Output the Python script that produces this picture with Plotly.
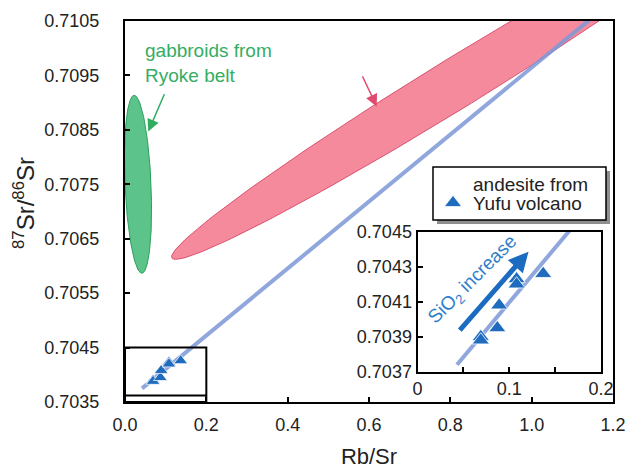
import numpy as np
import plotly.graph_objects as go

# ---------------- data ----------------
rb_sr = [0.069, 0.069, 0.087, 0.089, 0.108, 0.108, 0.137]
sr87_86 = [0.70390, 0.70388, 0.70395, 0.70408, 0.70423, 0.70420, 0.70426]

iso_x = [0.042, 1.16]
iso_y = [0.70375, 0.71063]
iso_inset_x = [0.043, 0.20]
iso_inset_y = [0.70374, 0.70472]

# fields: centre x, centre y, semi-major, semi-minor (x units), angle (deg, visual)
gabbro_field = dict(cx=0.0320, cy=0.70750, a=0.219, b=0.032, ang=92.5)
hohi_field = dict(cx=0.806, cy=0.70932, a=0.811, b=0.0615, ang=31.6)

x_ticks = [0.0, 0.2, 0.4, 0.6, 0.8, 1.0, 1.2]
y_ticks = [0.7035, 0.7045, 0.7055, 0.7065, 0.7075, 0.7085, 0.7095, 0.7105]
inset_x_ticks = [0, 0.1, 0.2]
inset_x_labels = ["0", "0.1", "0.2"]
inset_y_ticks = [0.7037, 0.7039, 0.7041, 0.7043, 0.7045]
legend_lines = ["andesite from", "Yufu volcano"]

x_range = [0, 1.2]
y_range = [0.7035, 0.7105]
inset_x_range = [0, 0.2]
inset_y_range = [0.7037, 0.7045]
zoom_box_y = [0.7035, 0.7045]
zoom_box_inner_y = 0.70362

# ---------------- geometry ----------------
W, H = 625, 470
ML, MR, MT, MB = 125, 12, 21, 68
PW, PH = W - ML - MR, H - MT - MB
k = (PH / (y_range[1] - y_range[0])) / (PW / (x_range[1] - x_range[0]))


def ellipse(f, n=240):
    t = np.linspace(0, 2 * np.pi, n)
    th = np.radians(f["ang"])
    X = f["cx"] + f["a"] * np.cos(th) * np.cos(t) - f["b"] * np.sin(th) * np.sin(t)
    Y = f["cy"] + (f["a"] * np.sin(th) * np.cos(t) + f["b"] * np.cos(th) * np.sin(t)) / k
    return X, Y


def px_x(p):
    return (p - ML) / PW


def px_y(p):
    return (H - MB - p) / PH


FONT = "Liberation Sans, Arial, sans-serif"
BLUE = "#1f6cbf"
fig = go.Figure()

gx, gy = ellipse(gabbro_field)
fig.add_trace(go.Scatter(x=gx, y=gy, mode="lines", fill="toself",
                         fillcolor="#5cc38a", line=dict(color="#2f9d5d", width=1),
                         hoverinfo="skip", showlegend=False))
hx, hy = ellipse(hohi_field)
fig.add_trace(go.Scatter(x=hx, y=hy, mode="lines", fill="toself",
                         fillcolor="#f58a9d", line=dict(color="#d9536f", width=1),
                         hoverinfo="skip", showlegend=False))
fig.add_trace(go.Scatter(x=iso_x, y=iso_y, mode="lines",
                         line=dict(color="rgba(125,152,215,0.85)", width=4),
                         hoverinfo="skip", showlegend=False))
fig.add_trace(go.Scatter(x=rb_sr, y=sr87_86, mode="markers",
                         marker=dict(symbol="triangle-up", size=12, color=BLUE,
                                     line=dict(color="white", width=0.7)),
                         showlegend=False))

fig.add_trace(go.Scatter(x=iso_inset_x, y=iso_inset_y, mode="lines", xaxis="x2", yaxis="y2",
                         line=dict(color="rgba(125,152,215,0.85)", width=4),
                         hoverinfo="skip", showlegend=False))
fig.add_trace(go.Scatter(x=rb_sr, y=sr87_86, mode="markers", xaxis="x2", yaxis="y2",
                         name="",
                         marker=dict(symbol="triangle-up", size=15, color=BLUE,
                                     line=dict(color="white", width=0.8)),
                         showlegend=True))

axis_common = dict(showgrid=False, zeroline=False, showline=True, linecolor="black",
                   linewidth=2, mirror=True, ticks="inside", ticklen=5, tickwidth=1.5,
                   tickcolor="black", automargin=False, ticklabeloverflow="allow",
                   tickfont=dict(size=18, color="#222", family=FONT))

# legend frame (px)
LG_L, LG_R, LG_T, LG_B = 433, 606, 167, 220

fig.update_layout(
    width=W, height=H, margin=dict(l=ML, r=MR, t=MT, b=MB),
    paper_bgcolor="white", plot_bgcolor="white",
    font=dict(family=FONT, color="#222"),
    xaxis=dict(range=x_range, tickvals=x_ticks, tickformat=".1f",
               ticklabelstandoff=5,
               title=dict(text="Rb/Sr", font=dict(size=22, color="#222"), standoff=15),
               **axis_common),
    yaxis=dict(range=y_range, tickvals=y_ticks, tickformat=".4f",
               ticklabelstandoff=20, **axis_common),
    xaxis2=dict(domain=[0.5994, 0.9754], anchor="y2", range=inset_x_range,
                tickvals=inset_x_ticks, ticktext=inset_x_labels,
                minor=dict(dtick=0.05, ticks="inside", ticklen=5, tickwidth=1.5, tickcolor="black"),
                ticklabelstandoff=0, **axis_common),
    yaxis2=dict(domain=[0.0795, 0.447], anchor="x2", range=inset_y_range,
                tickvals=inset_y_ticks, tickformat=".4f",
                ticklabelstandoff=0, **axis_common),
    legend=dict(x=px_x(LG_L), y=px_y(LG_T + 17), xanchor="left", yanchor="top",
                bgcolor="rgba(0,0,0,0)", borderwidth=0, itemsizing="trace",
                font=dict(size=19, color="#222", family=FONT)),
    shapes=[
        dict(type="rect", xref="paper", yref="paper", x0=px_x(LG_L + 4), x1=px_x(LG_R + 4),
             y0=px_y(LG_B + 4), y1=px_y(LG_T + 4), line=dict(width=0),
             fillcolor="#8f8f8f", layer="above"),
        dict(type="rect", xref="paper", yref="paper", x0=px_x(LG_L), x1=px_x(LG_R),
             y0=px_y(LG_B), y1=px_y(LG_T), line=dict(color="black", width=1.5),
             fillcolor="white", layer="above"),
        dict(type="rect", xref="x", yref="y", x0=inset_x_range[0], x1=inset_x_range[1],
             y0=zoom_box_y[0], y1=zoom_box_y[1], line=dict(color="black", width=2)),
        dict(type="line", xref="x", yref="y", x0=inset_x_range[0], x1=inset_x_range[1],
             y0=zoom_box_inner_y, y1=zoom_box_inner_y, line=dict(color="black", width=2)),
    ],
    annotations=[
        dict(text="<sup>87</sup>Sr/<sup>86</sup>Sr", x=px_x(24), y=px_y(203),
             xref="paper", yref="paper", textangle=-90, showarrow=False,
             xanchor="center", yanchor="middle",
             font=dict(size=24, color="#222", family=FONT)),
        dict(text=legend_lines[0], x=px_x(LG_L + 39), y=px_y(184.5), xref="paper", yref="paper",
             xanchor="left", yanchor="middle", showarrow=False, height=17, borderpad=0,
             font=dict(size=19, color="#222", family=FONT)),
        dict(text=legend_lines[1], x=px_x(LG_L + 39), y=px_y(203), xref="paper", yref="paper",
             xanchor="left", yanchor="middle", showarrow=False, height=17, borderpad=0,
             font=dict(size=19, color="#222", family=FONT)),
        dict(text="gabbroids from<br>Ryoke belt", x=0.0443, y=0.70973, xref="x", yref="y",
             xanchor="left", yanchor="middle", align="left", showarrow=False,
             font=dict(size=19, color="#35ad62", family=FONT)),
        dict(text="", x=0.0573, y=0.70847, xref="x", yref="y", ax=16.7, ay=-38.7,
             showarrow=True, arrowhead=2, arrowsize=1.6, arrowwidth=1.5, arrowcolor="#2fae5f"),
        dict(text="Cretaceous Hohi<br>granitic rock", x=0.459, y=0.710967, xref="x", yref="y",
             xanchor="left", yanchor="middle", align="left", showarrow=False,
             font=dict(size=19, color="#e05273", family=FONT)),
        dict(text="", x=0.619, y=0.70893, xref="x", yref="y", ax=-15, ay=-31.7,
             showarrow=True, arrowhead=2, arrowsize=1.6, arrowwidth=1.5, arrowcolor="#e04a6c"),
        dict(text="SiO<sub>2</sub> increase", x=0.0606, y=0.704224, xref="x2", yref="y2",
             textangle=-45, showarrow=False, font=dict(size=19, color="#2d7fcb", family=FONT)),
        dict(text="", x=0.121, y=0.704386, xref="x2", yref="y2", ax=-70, ay=80,
             showarrow=True, arrowhead=2, arrowsize=0.8, arrowwidth=5, arrowcolor="#1b6cc0"),
    ],
)

fig.write_html("out.html")
